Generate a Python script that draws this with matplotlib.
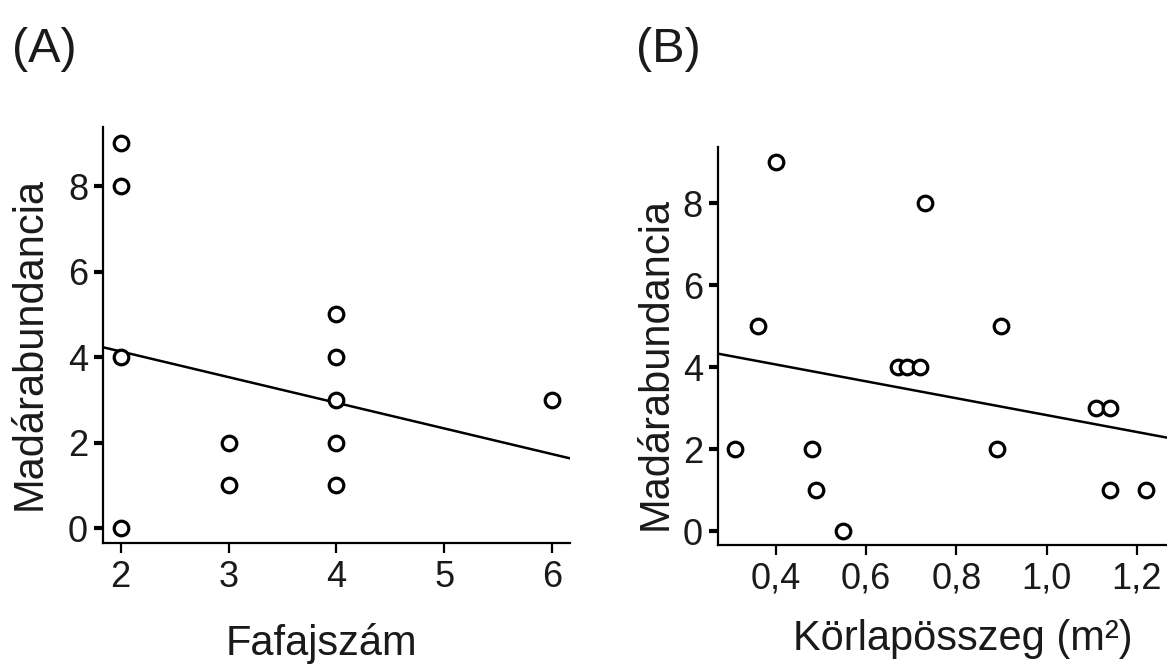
import matplotlib
matplotlib.use("Agg")
import matplotlib.pyplot as plt
import numpy as np

plt.rcParams["font.family"] = ["Liberation Sans", "DejaVu Sans"]

# Panel A: number of tree species vs. bird abundance
species_count = [2, 2, 2, 2, 3, 3, 4, 4, 4, 4, 4, 6]
abundance_a = [9, 8, 4, 0, 2, 1, 5, 4, 3, 2, 1, 3]
fit_a = (5.33, -0.60)          # intercept, slope
xticks_a = [2, 3, 4, 5, 6]

# Panel B: basal area vs. bird abundance
basal_area = [0.31, 0.36, 0.40, 0.48, 0.49, 0.55, 0.67, 0.69, 0.72, 0.73,
              0.89, 0.90, 1.11, 1.14, 1.14, 1.22]
abundance_b = [2, 5, 9, 2, 1, 0, 4, 4, 4, 8, 2, 5, 3, 3, 1, 1]
fit_b = (4.89, -2.06)
xticks_b = [0.4, 0.6, 0.8, 1.0, 1.2]
xticklabels_b = ["0,4", "0,6", "0,8", "1,0", "1,2"]

yticks = [0, 2, 4, 6, 8]

W, H = 1167, 664
fig = plt.figure(figsize=(W / 100, H / 100), dpi=100)
TXT = "#1a1a1a"


def px_axes(x0, y0, x1, y1):
    return fig.add_axes([x0 / W, 1 - y1 / H, (x1 - x0) / W, (y1 - y0) / H])


def style(ax):
    for s in ("top", "right"):
        ax.spines[s].set_visible(False)
    for s in ("left", "bottom"):
        ax.spines[s].set_linewidth(1.6)
    ax.tick_params(axis="y", direction="out", length=6.5, width=3.0,
                   labelsize=26, pad=4, labelcolor=TXT)
    ax.tick_params(axis="x", direction="out", length=7, width=1.6,
                   labelsize=26, pad=5, labelcolor=TXT)
    ax.set_yticks(yticks)


mk = dict(marker="o", linestyle="none", markersize=10.5, markeredgewidth=2.3,
          markerfacecolor="white", markeredgecolor="black", zorder=3)

# --- Panel A ---
axA = px_axes(102.7, 127, 570, 543)
xlimA = (1.833, 6.167)
axA.plot(species_count, abundance_a, **mk)
xa = np.array(xlimA)
axA.plot(xa, fit_a[0] + fit_a[1] * xa, color="black", lw=1.8, zorder=2)
axA.set_xlim(*xlimA)
axA.set_ylim(-0.35, 9.38)
axA.set_xticks(xticks_a)
style(axA)

# --- Panel B ---
axB = px_axes(717.5, 146.7, 1182, 545)
xlimB = (0.271, 1.30)
axB.plot(basal_area, abundance_b, **mk)
xb = np.array(xlimB)
axB.plot(xb, fit_b[0] + fit_b[1] * xb, color="black", lw=1.8, zorder=2)
axB.set_xlim(*xlimB)
axB.set_ylim(-0.34, 9.38)
axB.set_xticks(xticks_b)
axB.set_xticklabels(xticklabels_b)
style(axB)

# Axis titles
fig.text(10 / W, 1 - 343 / H, "Madárabundancia", rotation=90, fontsize=30,
         color=TXT, ha="left", va="center")
fig.text(636 / W, 1 - 364 / H, "Madárabundancia", rotation=90, fontsize=30,
         color=TXT, ha="left", va="center")
fig.text(321 / W, 1 - 655 / H, "Fafajszám", fontsize=30, color=TXT,
         ha="center", va="baseline")
fig.text(963 / W, 1 - 650 / H, "Körlapösszeg (m²)", fontsize=30, color=TXT,
         ha="center", va="baseline")

# Panel letters
fig.text(12 / W, 1 - 62 / H, "(A)", fontsize=35, color=TXT, ha="left", va="baseline")
fig.text(636 / W, 1 - 62 / H, "(B)", fontsize=35, color=TXT, ha="left", va="baseline")

fig.savefig("out.png", dpi=100, facecolor="white")
